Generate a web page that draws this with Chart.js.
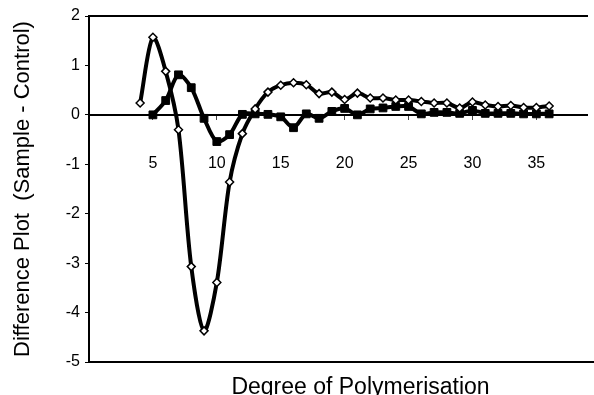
<!DOCTYPE html>
<html>
<head>
<meta charset="utf-8">
<script src="https://cdn.jsdelivr.net/npm/chart.js@4.4.1/dist/chart.umd.min.js"></script>
<style>
html,body{margin:0;padding:0;background:#fff;}
#wrap{width:594px;height:395px;}
</style>
</head>
<body>
<div id="wrap"><canvas id="c" width="594" height="395"></canvas></div>
<script>
// ---- data ----
const degreeOfPolymerisation = [4,5,6,7,8,9,10,11,12,13,14,15,16,17,18,19,20,21,22,23,24,25,26,27,28,29,30,31,32,33,34,35,36];
const diamondSeries = [0.24,1.57,0.88,-0.30,-3.07,-4.37,-3.39,-1.36,-0.38,0.12,0.46,0.60,0.65,0.61,0.43,0.46,0.31,0.44,0.34,0.34,0.30,0.30,0.27,0.24,0.24,0.14,0.26,0.20,0.17,0.19,0.15,0.15,0.18];
const squareSeries = [null,0.00,0.29,0.81,0.55,-0.07,-0.54,-0.40,0.01,0.02,0.01,-0.04,-0.26,0.02,-0.07,0.07,0.13,0.00,0.12,0.14,0.17,0.17,0.02,0.05,0.05,0.03,0.09,0.03,0.03,0.03,0.02,0.02,0.02];
const xTickValues = [5,10,15,20,25,30,35];
const yTickValues = [2,1,0,-1,-2,-3,-4,-5];
const xAxisTitle = 'Degree of Polymerisation';
const yAxisTitle = 'Difference Plot  (Sample - Control)';

const FAMILY = "'Liberation Sans', Arial, sans-serif";

function toPoints(values){
  return degreeOfPolymerisation.map((x,i)=>({x:x, y:values[i]}));
}

const shiftTitle = {
  id:'shiftTitle',
  afterLayout(chart){
    // plot area of the reference runs past the right edge; centre title accordingly
    chart.scales.xb.right = 632;
  }
};

new Chart(document.getElementById('c').getContext('2d'), {
  type:'line',
  data:{
    datasets:[
      {
        label:'Series A',
        data:toPoints(diamondSeries),
        borderColor:'#000',
        borderWidth:4,
        tension:0.3,
        fill:false,
        pointStyle:'rectRot',
        pointRadius:4,
        pointBackgroundColor:'#fff',
        pointBorderColor:'#000',
        pointBorderWidth:1.5
      },
      {
        label:'Series B',
        data:toPoints(squareSeries),
        borderColor:'#000',
        borderWidth:4,
        tension:0.3,
        fill:false,
        spanGaps:true,
        pointStyle:'rect',
        pointRadius:5.5,
        pointBackgroundColor:'#000',
        pointBorderColor:'#000',
        pointBorderWidth:1
      }
    ]
  },
  options:{
    responsive:false,
    animation:false,
    devicePixelRatio:1,
    layout:{padding:0},
    plugins:{legend:{display:false}, tooltip:{enabled:false}},
    scales:{
      x:{
        type:'linear', position:{y:0}, min:0, max:39,
        afterBuildTicks:s=>{ s.ticks = xTickValues.map(v=>({value:v})); },
        ticks:{font:{family:FAMILY,size:16}, color:'#000', padding:35, maxRotation:0, autoSkip:false},
        grid:{drawOnChartArea:false, drawTicks:true, tickLength:4, color:'#444'},
        border:{display:true, color:'#000', width:2}
      },
      xt:{
        type:'linear', position:'top', min:0, max:39,
        ticks:{display:false},
        grid:{drawOnChartArea:false, drawTicks:false},
        border:{display:true, color:'#000', width:2},
        afterFit:s=>{ s.height = 16; }
      },
      xb:{
        type:'linear', position:'bottom', min:0, max:39,
        ticks:{display:false},
        grid:{drawOnChartArea:false, drawTicks:false},
        border:{display:true, color:'#000', width:2},
        title:{display:true, text:xAxisTitle, color:'#000', font:{family:FAMILY,size:23,lineHeight:1}, padding:{top:0,bottom:-4}},
        afterFit:s=>{ s.height = 33; }
      },
      y:{
        type:'linear', position:'left', min:-5, max:2,
        afterBuildTicks:s=>{ s.ticks = yTickValues.map(v=>({value:v})); },
        ticks:{font:{family:FAMILY,size:16}, color:'#000', padding:5},
        grid:{drawOnChartArea:false, drawTicks:true, tickLength:4, color:'#000'},
        border:{display:true, color:'#000', width:2},
        title:{display:true, text:yAxisTitle, color:'#000', font:{family:FAMILY,size:22}, padding:{top:10,bottom:0}},
        afterFit:s=>{ s.width = 89; }
      }
    }
  },
  plugins:[shiftTitle]
});
</script>
</body>
</html>
